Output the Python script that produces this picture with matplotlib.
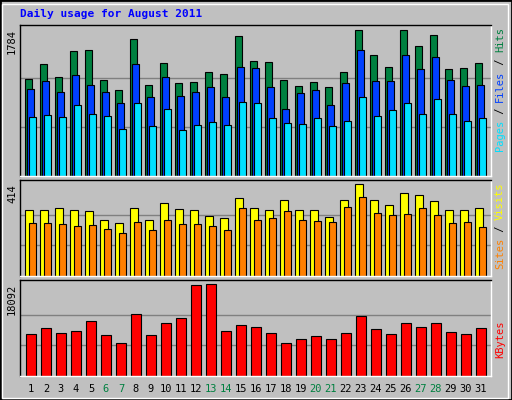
import matplotlib
matplotlib.use("Agg")
import matplotlib.pyplot as plt
from matplotlib.patches import Rectangle

days = list(range(1, 32))
weekend = [6, 7, 13, 14, 20, 21, 27, 28]
hits = [1188,1370,1212,1529,1541,1176,1054,1675,1115,1383,1139,1151,1273,1249,1711,1407,1395,1176,1103,1151,1091,1273,1784,1480,1334,1784,1589,1723,1310,1322,1383]
files = [1066,1164,1030,1237,1115,1018,884,1370,957,1212,981,1018,1079,957,1334,1322,1091,811,1006,1054,860,1139,1541,1164,1164,1480,1310,1456,1176,1103,1115]
pages = [714,738,714,860,750,726,568,896,604,811,555,616,653,616,908,896,701,641,628,701,604,665,969,726,799,884,750,933,750,665,701]
visits = [297,297,306,297,292,252,238,306,252,328,301,297,270,261,351,306,297,342,297,297,265,342,414,342,319,373,364,337,297,297,306]
sites = [238,238,234,225,229,211,193,243,207,252,234,234,225,207,306,252,261,292,252,247,243,310,355,283,274,279,306,274,238,243,220]
kbytes = [8188,9376,8386,8782,10763,7990,6405,12150,7990,10367,11357,17894,18092,8782,9971,9574,8386,6405,7197,7792,7197,8386,11753,9178,8188,10367,9574,10367,8584,8188,9376]

W, H = 512, 400
fig = plt.figure(figsize=(W/100, H/100), dpi=100)
fig.patch.set_facecolor('#C0C0C0')
mono = 'DejaVu Sans Mono'
fig.add_artist(Rectangle((0, 0), 1, 1, transform=fig.transFigure, fill=False, edgecolor='black', lw=2))
fig.add_artist(Rectangle((2/W, 2/H), 1-6/W, 1-6/H, transform=fig.transFigure, fill=False, edgecolor='white', lw=1))

def ax_at(x0, y0, x1, y1):
    return fig.add_axes([x0/W, 1-y1/H, (x1-x0)/W, (y1-y0)/H])

panels = [(25, 176), (180, 276), (280, 376)]
label_y = [29, 184, 284]
x0, x1 = 20, 491
slot = 15.0
xmax = (x1-x0)/slot

def setup(ax, top_val, frac_top, ly):
    ax.set_facecolor('#C0C0C0')
    ax.set_xlim(0, xmax)
    ax.set_ylim(0, top_val*frac_top)
    for f in (1/3, 2/3):
        ax.axhline(top_val*f, color='#808080', lw=1, zorder=0)
    ax.set_xticks([]); ax.set_yticks([])
    for s in ax.spines.values():
        s.set_color('black'); s.set_linewidth(1)
    ax.spines['bottom'].set_color('white'); ax.spines['right'].set_color('white')
    fig.text(12/W, 1-ly/H, str(top_val), rotation=90, ha='center', va='top', fontsize=7.5, family=mono)

xs = [d-1 for d in days]
kw = dict(align='edge', edgecolor='black', linewidth=0.8)

ax1 = ax_at(x0, panels[0][0], x1, panels[0][1])
setup(ax1, max(hits), 454/440, label_y[0])
ax1.bar([x+5.3/slot for x in xs], hits, width=7/slot, color='#008040', **kw)
ax1.bar([x+7.3/slot for x in xs], files, width=7/slot, color='#0040FF', **kw)
ax1.bar([x+9.3/slot for x in xs], pages, width=7/slot, color='#00E0FF', **kw)

ax2 = ax_at(x0, panels[1][0], x1, panels[1][1])
setup(ax2, max(visits), 289/276, label_y[1])
ax2.bar([x+5.3/slot for x in xs], visits, width=8/slot, color='#FFFF00', **kw)
ax2.bar([x+9.3/slot for x in xs], sites, width=7/slot, color='#FF8000', **kw)

ax3 = ax_at(x0, panels[2][0], x1, panels[2][1])
setup(ax3, max(kbytes), 286/274, label_y[2])
ax3.bar([x+6.3/slot for x in xs], kbytes, width=10/slot, color='#FF0000', **kw)

for d, x in zip(days, xs):
    fig.text((x0 + (x+0.73)*slot)/W, 1-389/H, str(d), ha='center', va='center', fontsize=7.5,
             family=mono, color='#008040' if d in weekend else 'black')

fig.text(20/W, 1-14/H, 'Daily usage for August 2011', fontsize=8, family=mono,
         weight='bold', color='#0000FF', va='center')

def right_label(parts, ytop):
    y = ytop
    for txt, col in parts:
        fig.text(500/W, 1-y/H, txt, rotation=90, ha='center', va='top', fontsize=7.5, family=mono, color=col)
        y += len(txt)*6.2

right_label([('Hits', '#008040'), (' / ', 'black'), ('Files', '#0040FF'), (' / ', 'black'), ('Pages', '#00E0FF')], 27)
right_label([('Visits', '#FFFF00'), (' / ', 'black'), ('Sites', '#FF8000')], 182)
right_label([('KBytes', '#FF0000')], 320)

fig.savefig('out.png', dpi=100, facecolor=fig.get_facecolor())
